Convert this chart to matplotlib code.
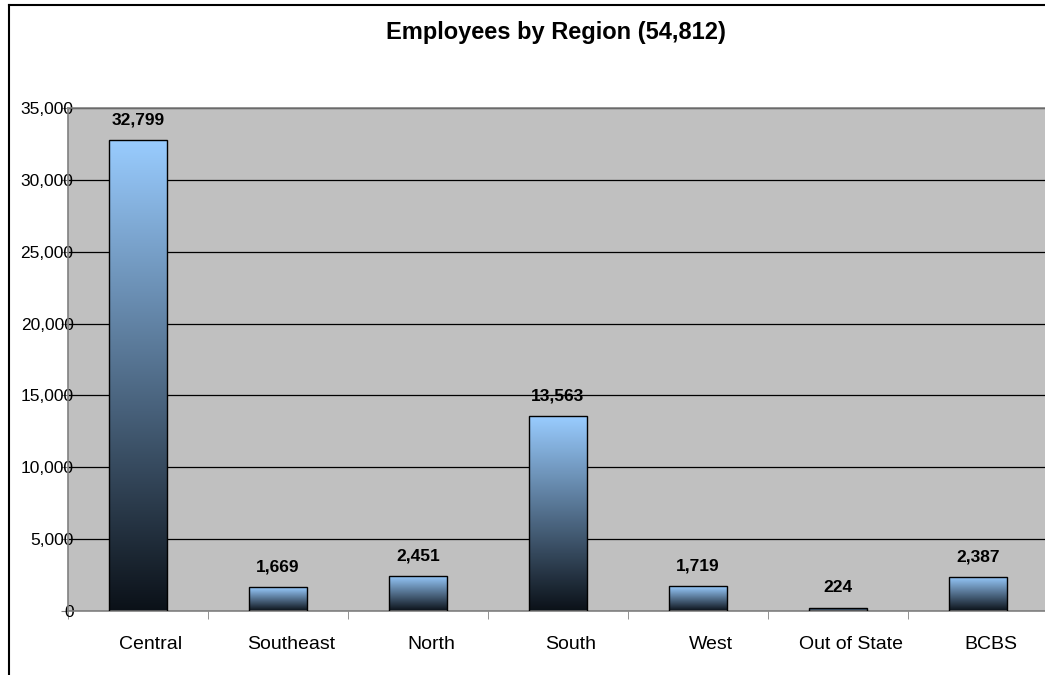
"""Employees by region bar chart with Excel-style gradient bars."""

import matplotlib
matplotlib.use("Agg")
import matplotlib.pyplot as plt
import matplotlib.transforms as mtransforms
import numpy as np
from matplotlib.colors import LinearSegmentedColormap
from matplotlib.lines import Line2D
from matplotlib.patches import Rectangle
from matplotlib.ticker import FuncFormatter, MultipleLocator

plt.rcParams["font.family"] = ["Liberation Sans", "DejaVu Sans"]

regions = ["Central", "Southeast", "North", "South", "West", "Out of State", "BCBS"]
employees = [32799, 1669, 2451, 13563, 1719, 224, 2387]
title = "Employees by Region (54,812)"

bar_cmap = LinearSegmentedColormap.from_list("bar", ["#0b1118", "#99ccff"])
bar_width = 0.41

fig = plt.figure(figsize=(10.45, 6.75), dpi=100)
ax = fig.add_axes([68 / 1045, 1 - 611 / 675, 980 / 1045, 503 / 675])
ax.set_facecolor("#c0c0c0")

x = np.arange(len(regions))
grad = np.linspace(0, 1, 256).reshape(-1, 1)
for xi, val in zip(x, employees):
    rect = Rectangle((xi - bar_width / 2, 0), bar_width, val,
                     facecolor="none", edgecolor="none")
    ax.add_patch(rect)
    im = ax.imshow(grad, cmap=bar_cmap, origin="lower", aspect="auto",
                   extent=(xi - bar_width / 2, xi + bar_width / 2, 0, val),
                   zorder=2, interpolation="bilinear")
    im.set_clip_path(rect)
ax.bar(x, employees, width=bar_width, fill=False, edgecolor="#000000",
       linewidth=1.0, zorder=3)

for xi, val in zip(x, employees):
    ax.annotate(f"{val:,}", (xi, val), xytext=(0, 9), textcoords="offset points",
                ha="center", va="bottom", fontsize=12.5, fontweight="bold", zorder=4)

ax.set_xlim(-0.5, len(regions) - 0.5)
ax.set_ylim(0, 35000)
ax.yaxis.set_major_locator(MultipleLocator(5000))
ax.yaxis.set_major_formatter(FuncFormatter(lambda v, _: f"{v:,.0f}"))
ax.grid(axis="y", color="#000000", linewidth=0.9, zorder=1)
ax.set_axisbelow(True)

ax.set_xticks(x)
ax.set_xticklabels(regions, fontsize=14)
ax.tick_params(axis="x", which="major", length=0, pad=18)
ax.set_xticks(np.arange(-0.5, len(regions), 1.0), minor=True)
ax.tick_params(axis="x", which="minor", length=6, color="#808080", direction="out")
ax.tick_params(axis="y", labelsize=12.5, length=5, pad=-9, color="#808080")

# category labels sit a little right of the bar centres in the original
shift = mtransforms.ScaledTranslation(13 / 100, 0, fig.dpi_scale_trans)
for lbl in ax.get_xticklabels():
    lbl.set_transform(lbl.get_transform() + shift)

for side in ["top", "bottom", "left"]:
    ax.spines[side].set_color("#808080")
    ax.spines[side].set_linewidth(1.2)
ax.spines["right"].set_visible(False)

fig.text(556 / 1045, 1 - 33 / 675, title, ha="center", va="center",
         fontsize=17, fontweight="bold")

# outer chart border (left and top only visible)
fig.add_artist(Line2D([9 / 1045, 9 / 1045], [0, 1 - 5 / 675],
                      transform=fig.transFigure, color="#000000", linewidth=1.5))
fig.add_artist(Line2D([9 / 1045, 1], [1 - 5 / 675, 1 - 5 / 675],
                      transform=fig.transFigure, color="#000000", linewidth=1.5))

fig.savefig("out.png", dpi=100)
plt.close(fig)
